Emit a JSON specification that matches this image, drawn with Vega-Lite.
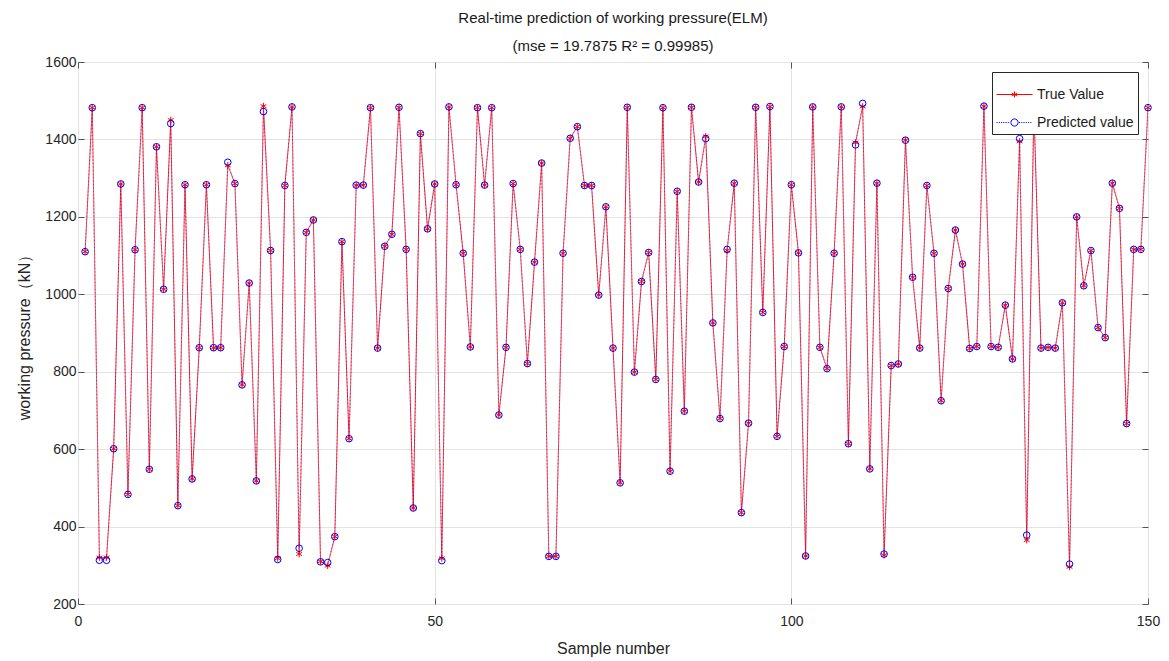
{
  "$schema": "https://vega.github.io/schema/vega-lite/v6.json",
  "width": 1070,
  "height": 542,
  "autosize": {"type": "none"},
  "padding": {"left": 78, "top": 62, "right": 21, "bottom": 57},
  "background": "white",
  "config": {
    "font": "Liberation Sans",
    "view": {"stroke": "#7a7a7a", "strokeWidth": 1},
    "axis": {"labelFont": "Liberation Sans", "titleFont": "Liberation Sans", "labelColor": "#262626", "titleColor": "#262626", "labelFontSize": 14, "titleFontSize": 16, "titleFontWeight": "normal", "gridColor": "#e3e3e3", "domainColor": "#7a7a7a", "tickColor": "#555555"}
  },
  "title": {
    "text": ["Real-time prediction of working pressure(ELM)", "(mse = 19.7875 R² = 0.99985)"],
    "fontSize": 15, "fontWeight": "normal", "font": "Liberation Sans", "color": "#1a1a1a",
    "anchor": "middle", "frame": "group", "lineHeight": 28, "offset": 1
  },
  "data": {"values": [
    {"n":1,"true":1110,"pred":1110},{"n":2,"true":1482,"pred":1482},{"n":3,"true":320,"pred":313},{"n":4,"true":320,"pred":313},{"n":5,"true":601,"pred":601},
    {"n":6,"true":1285,"pred":1285},{"n":7,"true":483,"pred":483},{"n":8,"true":1115,"pred":1115},{"n":9,"true":1482,"pred":1482},{"n":10,"true":548,"pred":548},
    {"n":11,"true":1381,"pred":1381},{"n":12,"true":1013,"pred":1013},{"n":13,"true":1450,"pred":1441},{"n":14,"true":454,"pred":454},{"n":15,"true":1283,"pred":1283},
    {"n":16,"true":523,"pred":523},{"n":17,"true":862,"pred":862},{"n":18,"true":1283,"pred":1283},{"n":19,"true":862,"pred":862},{"n":20,"true":862,"pred":862},
    {"n":21,"true":1333,"pred":1341},{"n":22,"true":1286,"pred":1286},{"n":23,"true":766,"pred":766},{"n":24,"true":1029,"pred":1029},{"n":25,"true":518,"pred":518},
    {"n":26,"true":1486,"pred":1472},{"n":27,"true":1113,"pred":1113},{"n":28,"true":318,"pred":315},{"n":29,"true":1281,"pred":1281},{"n":30,"true":1484,"pred":1484},
    {"n":31,"true":329,"pred":344},{"n":32,"true":1160,"pred":1160},{"n":33,"true":1192,"pred":1192},{"n":34,"true":310,"pred":309},{"n":35,"true":299,"pred":307},
    {"n":36,"true":374,"pred":374},{"n":37,"true":1136,"pred":1136},{"n":38,"true":627,"pred":627},{"n":39,"true":1282,"pred":1282},{"n":40,"true":1282,"pred":1282},
    {"n":41,"true":1482,"pred":1482},{"n":42,"true":861,"pred":861},{"n":43,"true":1124,"pred":1124},{"n":44,"true":1155,"pred":1155},{"n":45,"true":1483,"pred":1483},
    {"n":46,"true":1116,"pred":1116},{"n":47,"true":448,"pred":448},{"n":48,"true":1415,"pred":1415},{"n":49,"true":1169,"pred":1169},{"n":50,"true":1285,"pred":1285},
    {"n":51,"true":318,"pred":312},{"n":52,"true":1484,"pred":1484},{"n":53,"true":1283,"pred":1283},{"n":54,"true":1106,"pred":1106},{"n":55,"true":864,"pred":864},
    {"n":56,"true":1482,"pred":1482},{"n":57,"true":1282,"pred":1282},{"n":58,"true":1482,"pred":1482},{"n":59,"true":688,"pred":688},{"n":60,"true":863,"pred":863},
    {"n":61,"true":1286,"pred":1286},{"n":62,"true":1116,"pred":1116},{"n":63,"true":821,"pred":821},{"n":64,"true":1083,"pred":1083},{"n":65,"true":1339,"pred":1339},
    {"n":66,"true":323,"pred":323},{"n":67,"true":323,"pred":323},{"n":68,"true":1106,"pred":1106},{"n":69,"true":1403,"pred":1403},{"n":70,"true":1433,"pred":1433},
    {"n":71,"true":1281,"pred":1281},{"n":72,"true":1281,"pred":1281},{"n":73,"true":998,"pred":998},{"n":74,"true":1226,"pred":1226},{"n":75,"true":861,"pred":861},
    {"n":76,"true":513,"pred":513},{"n":77,"true":1483,"pred":1483},{"n":78,"true":799,"pred":799},{"n":79,"true":1033,"pred":1033},{"n":80,"true":1108,"pred":1108},
    {"n":81,"true":780,"pred":780},{"n":82,"true":1482,"pred":1482},{"n":83,"true":543,"pred":543},{"n":84,"true":1266,"pred":1266},{"n":85,"true":698,"pred":698},
    {"n":86,"true":1483,"pred":1483},{"n":87,"true":1290,"pred":1290},{"n":88,"true":1408,"pred":1402},{"n":89,"true":926,"pred":926},{"n":90,"true":679,"pred":679},
    {"n":91,"true":1113,"pred":1116},{"n":92,"true":1287,"pred":1287},{"n":93,"true":436,"pred":436},{"n":94,"true":667,"pred":667},{"n":95,"true":1483,"pred":1483},
    {"n":96,"true":953,"pred":953},{"n":97,"true":1485,"pred":1485},{"n":98,"true":633,"pred":633},{"n":99,"true":865,"pred":865},{"n":100,"true":1283,"pred":1283},
    {"n":101,"true":1107,"pred":1107},{"n":102,"true":324,"pred":324},{"n":103,"true":1484,"pred":1484},{"n":104,"true":863,"pred":863},{"n":105,"true":808,"pred":808},
    {"n":106,"true":1106,"pred":1106},{"n":107,"true":1484,"pred":1484},{"n":108,"true":614,"pred":614},{"n":109,"true":1392,"pred":1386},{"n":110,"true":1485,"pred":1493},
    {"n":111,"true":549,"pred":549},{"n":112,"true":1287,"pred":1287},{"n":113,"true":326,"pred":329},{"n":114,"true":816,"pred":816},{"n":115,"true":820,"pred":820},
    {"n":116,"true":1398,"pred":1398},{"n":117,"true":1044,"pred":1044},{"n":118,"true":861,"pred":861},{"n":119,"true":1281,"pred":1281},{"n":120,"true":1106,"pred":1106},
    {"n":121,"true":725,"pred":725},{"n":122,"true":1015,"pred":1015},{"n":123,"true":1166,"pred":1166},{"n":124,"true":1078,"pred":1078},{"n":125,"true":860,"pred":860},
    {"n":126,"true":865,"pred":865},{"n":127,"true":1486,"pred":1486},{"n":128,"true":865,"pred":865},{"n":129,"true":863,"pred":863},{"n":130,"true":972,"pred":972},
    {"n":131,"true":833,"pred":833},{"n":132,"true":1395,"pred":1402},{"n":133,"true":365,"pred":378},{"n":134,"true":1485,"pred":1485},{"n":135,"true":861,"pred":861},
    {"n":136,"true":863,"pred":863},{"n":137,"true":861,"pred":861},{"n":138,"true":978,"pred":978},{"n":139,"true":296,"pred":303},{"n":140,"true":1200,"pred":1200},
    {"n":141,"true":1022,"pred":1022},{"n":142,"true":1113,"pred":1113},{"n":143,"true":914,"pred":914},{"n":144,"true":888,"pred":888},{"n":145,"true":1287,"pred":1287},
    {"n":146,"true":1222,"pred":1222},{"n":147,"true":666,"pred":666},{"n":148,"true":1116,"pred":1116},{"n":149,"true":1116,"pred":1116},{"n":150,"true":1482,"pred":1482}
  ]},
  "transform": [{"fold": ["true", "pred"], "as": ["series", "value"]}],
  "layer": [
    {
      "mark": {"type": "line", "clip": true},
      "encoding": {
        "x": {"field": "n", "type": "quantitative", "scale": {"domain": [0, 150], "nice": false, "zero": false},
              "axis": {"values": [0, 50, 100, 150], "format": "d", "title": "Sample number", "grid": true, "tickSize": -6, "labelPadding": 16, "titlePadding": 12, "domain": false, "labelFlush": false}},
        "y": {"field": "value", "type": "quantitative", "scale": {"domain": [200, 1600], "nice": false, "zero": false},
              "axis": {"values": [200, 400, 600, 800, 1000, 1200, 1400, 1600], "format": "d", "title": "working pressure（kN）", "grid": true, "tickSize": -6, "labelPadding": 8, "titlePadding": 12, "domain": false, "labelFlush": false}},
        "color": {"field": "series", "type": "nominal", "scale": {"domain": ["pred", "true"], "range": ["#0000ff", "#ff0000"]}, "legend": null},
        "strokeDash": {"field": "series", "type": "nominal", "scale": {"domain": ["pred", "true"], "range": [[1, 2.5], [1, 0]]}, "legend": null},
        "strokeWidth": {"field": "series", "type": "nominal", "scale": {"domain": ["pred", "true"], "range": [0.8, 1]}, "legend": null},
        "opacity": {"field": "series", "type": "nominal", "scale": {"domain": ["pred", "true"], "range": [0.6, 0.85]}, "legend": null},
        "order": {"field": "n", "type": "quantitative"}
      }
    },
    {
      "mark": {"type": "point", "filled": false, "strokeWidth": 1, "size": 44, "opacity": 1},
      "encoding": {
        "x": {"field": "n", "type": "quantitative",
              "axis": {"orient": "top", "values": [0, 50, 100, 150], "labels": false, "title": null, "grid": false, "tickSize": -6, "domain": false}},
        "y": {"field": "value", "type": "quantitative",
              "axis": {"orient": "right", "values": [200, 400, 600, 800, 1000, 1200, 1400, 1600], "labels": false, "title": null, "grid": false, "tickSize": -6, "domain": false}},
        "color": {"field": "series", "type": "nominal", "scale": {"domain": ["pred", "true"], "range": ["#0000ff", "#ff0000"]}, "legend": null},
        "shape": {"field": "series", "type": "nominal", "scale": {"domain": ["pred", "true"], "range": ["circle", "M0,-1V1M-0.87,-0.5L0.87,0.5M-0.87,0.5L0.87,-0.5"]}, "legend": null}
      }
    },
    {
      "transform": [{"filter": "false"}],
      "mark": {"type": "point", "filled": false, "strokeWidth": 1},
      "encoding": {
        "x": {"field": "n", "type": "quantitative", "axis": null},
        "y": {"field": "value", "type": "quantitative", "axis": null},
        "color": {"field": "series", "type": "nominal", "scale": {"domain": ["true", "pred"], "range": ["#ff0000", "#0000ff"]},
                  "legend": {"title": null, "orient": "top-right", "offset": 10, "strokeColor": "#262626", "fillColor": "white", "padding": 4,
                             "labelFontSize": 14, "labelFont": "Liberation Sans", "labelColor": "#1a1a1a", "symbolSize": 1296, "symbolStrokeWidth": 1, "symbolOpacity": 1, "rowPadding": 2, "labelOffset": 4,
                             "labelExpr": "datum.value == 'true' ? 'True Value' : 'Predicted value'"}},
        "shape": {"field": "series", "type": "nominal", "scale": {"domain": ["true", "pred"], "range": ["M-1,0H1M0,-0.17V0.17M-0.15,-0.085L0.15,0.085M-0.15,0.085L0.15,-0.085", "M-1,0h0.06M-0.875,0h0.06M-0.75,0h0.06M-0.625,0h0.06M-0.5,0h0.06M-0.375,0h0.06M0.25,0h0.06M0.375,0h0.06M0.5,0h0.06M0.625,0h0.06M0.75,0h0.06M0.875,0h0.06M-0.2,0A0.2,0.2 0 1,1 0.2,0A0.2,0.2 0 1,1 -0.2,0"]},
                  "legend": {"title": null, "orient": "top-right", "offset": 10, "strokeColor": "#262626", "fillColor": "white", "padding": 4,
                             "labelFontSize": 14, "labelFont": "Liberation Sans", "labelColor": "#1a1a1a", "symbolSize": 1296, "symbolStrokeWidth": 1, "symbolOpacity": 1, "rowPadding": 2, "labelOffset": 4,
                             "labelExpr": "datum.value == 'true' ? 'True Value' : 'Predicted value'"}}
      }
    }
  ],
  "resolve": {"axis": {"x": "independent", "y": "independent"}, "scale": {"color": "independent", "shape": "independent"}}
}
